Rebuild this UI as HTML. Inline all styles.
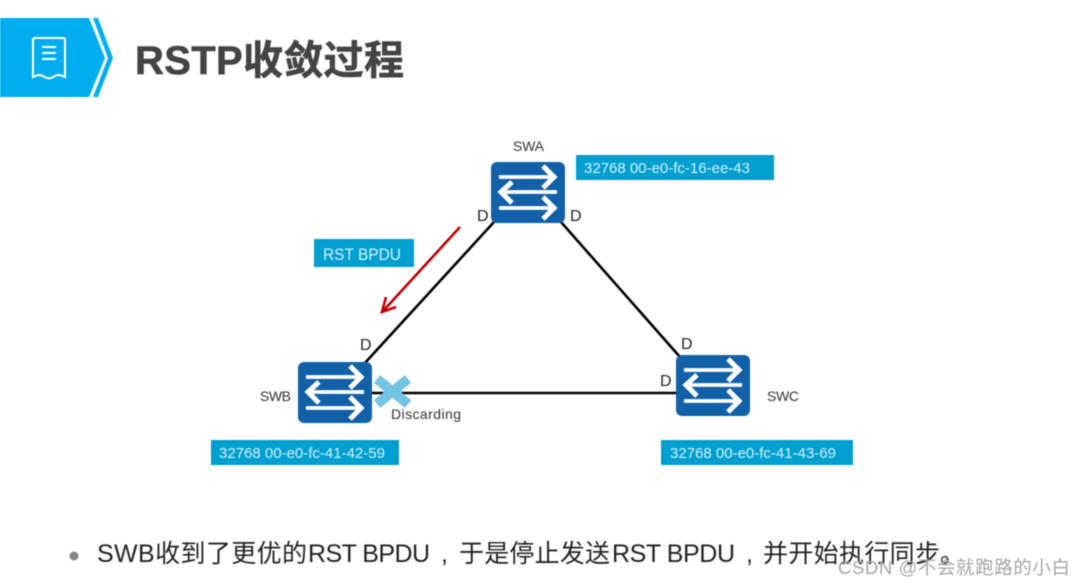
<!DOCTYPE html>
<html><head><meta charset="utf-8"><style>
html,body{margin:0;padding:0;background:#fff;width:1083px;height:586px;overflow:hidden}
svg{display:block;filter:blur(.5px)}
text{font-family:"Liberation Sans","Noto Sans CJK SC",sans-serif}
</style></head><body>
<svg width="1083" height="586" viewBox="0 0 1083 586" xmlns="http://www.w3.org/2000/svg">
<defs>
<g id="sw">
<rect x="0" y="0" width="74" height="61" rx="6" fill="#1160a8"/>
<g fill="none" stroke="#fff" stroke-width="3.8">
<path d="M8 15H62"/><path d="M66 30H12"/><path d="M8 46H62"/>
</g>
<g fill="none" stroke="#fff" stroke-width="5">
<path d="M52 4L63 15L52 26"/>
<path d="M21 20L10 30L21 41"/>
<path d="M52 35L63 46L52 57"/>
</g>
</g>
</defs>
<polygon points="0,18 89,18 105,58 89,97 0,97" fill="#00aeef"/>
<polygon points="93,18 98,18 113,58 98,97 93,97 108,58" fill="#00aeef"/>
<g fill="none" stroke="#fff" stroke-width="2">
<path d="M33 40Q33 38 35 38H63Q65 38 65 40V77L60 75Q55 75 52.500 77.500Q49 79 45.500 77.500Q42 75 38 75L33 77Z"/>
<path d="M42 47H56M42 53H56M42 59H56"/>
</g>
<text x="135" y="74" font-size="40" font-weight="700" fill="#444" stroke="#444" stroke-width=".6" textLength="269" lengthAdjust="spacing">RSTP收敛过程</text>

<g stroke="#000" stroke-width="2.6" fill="none">
<line x1="494" y1="222" x2="364" y2="364"/>
<line x1="561" y1="222" x2="680" y2="357"/>
<line x1="372" y1="393" x2="677" y2="393"/>
</g>
<line x1="460" y1="227" x2="384" y2="310" stroke="#c00000" stroke-width="2.6"/>
<path d="M386 297L382 312L396 307" stroke="#c00000" stroke-width="2.6" fill="none"/>

<g transform="translate(491,162)"><use href="#sw"/></g>
<g transform="translate(298,362)"><use href="#sw"/></g>
<g transform="translate(676,355)"><use href="#sw"/></g>

<g stroke="#74c4e4" stroke-width="10"><line x1="377" y1="379" x2="408" y2="404"/><line x1="408" y1="379" x2="377" y2="404"/></g>

<rect x="576" y="155" width="198" height="25" fill="#009fd0"/>
<rect x="211" y="440" width="188" height="25" fill="#009fd0"/>
<rect x="661" y="440" width="192" height="25" fill="#009fd0"/>
<rect x="314" y="239" width="100" height="28" fill="#009fd0"/>
<g font-size="15" fill="#d8f2fb">
<text x="584" y="173" textLength="166" lengthAdjust="spacingAndGlyphs">32768 00-e0-fc-16-ee-43</text>
<text x="219" y="458" textLength="166" lengthAdjust="spacingAndGlyphs">32768 00-e0-fc-41-42-59</text>
<text x="670" y="458" textLength="166" lengthAdjust="spacingAndGlyphs">32768 00-e0-fc-41-43-69</text>
<text x="323" y="260" font-size="17" textLength="78" lengthAdjust="spacingAndGlyphs">RST BPDU</text>
</g>
<g font-size="14" fill="#333">
<text x="513" y="151" textLength="31">SWA</text>
<text x="260" y="401" textLength="31">SWB</text>
<text x="767" y="401" textLength="32">SWC</text>
<text x="391" y="419" textLength="70">Discarding</text>
</g>
<g font-size="16" fill="#222">
<text x="477" y="221">D</text>
<text x="570" y="221">D</text>
<text x="360" y="350">D</text>
<text x="681" y="349">D</text>
<text x="660" y="386">D</text>
</g>
<circle cx="74" cy="556" r="4.500" fill="#858585"/>
<g font-size="25" fill="#222">
<text x="97" y="562" textLength="210">SWB收到了更优的</text>
<text x="308" y="562" textLength="122">RST BPDU</text>
<text x="441" y="562">,</text>
<text x="459" y="562" textLength="151">于是停止发送</text>
<text x="612" y="562" textLength="123">RST BPDU</text>
<text x="746" y="562">,</text>
<text x="763" y="562" textLength="177">并开始执行同步</text>
<text x="940" y="562">。</text>
</g>
<text x="838" y="574" font-size="18.500" fill="#a6a6a6" textLength="232" lengthAdjust="spacing">CSDN @不会就跑路的小白</text>
</svg>
</body></html>
